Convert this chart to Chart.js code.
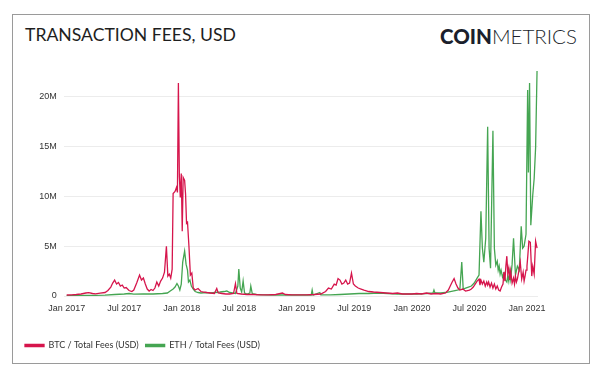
<!DOCTYPE html>
<html lang="en">
<head>
  <meta charset="UTF-8">
  <title>Transaction Fees, USD</title>
  <script src="https://cdn.jsdelivr.net/npm/chart.js"></script>
  <style>
    html, body { margin: 0; padding: 0; background: #fff; overflow: hidden; }
    #wrap { position: relative; width: 600px; height: 366px; }
    #frame {
      position: absolute; left: 12px; top: 14px; width: 576px; height: 348px;
      border: 1px solid #9a9a9a;
    }
    #title {
      position: absolute; left: 25px; top: 26px; margin: 0;
      font: 400 17.6px/1 Lato, "Open Sans", sans-serif; color: #1e1e1e;
    }
    #logo {
      position: absolute; left: 440px; top: 26px;
      font: 300 20.5px/1 Lato, "Open Sans", sans-serif; color: #1b1f2c;
    }
    #logo b { font-weight: 900; }
    canvas { position: absolute; left: 0; top: 0; }
  </style>
</head>
<body>
  <div id="wrap">
    <div id="frame"></div>
    <h1 id="title">TRANSACTION FEES, USD</h1>
    <div id="logo"><b>COIN</b><span>METRICS</span></div>
    <canvas id="feesChart" width="600" height="366"></canvas>
  </div>

  <script>
    // x = months since Jan 2017, fees in millions of USD
    const btcMonths = [0, 0.5, 1, 1.5, 2, 2.3, 2.7, 3, 3.5, 4, 4.3, 4.6, 4.8, 5, 5.2, 5.4, 5.6, 5.8, 6, 6.2, 6.5, 6.8,
      7, 7.3, 7.6, 7.8, 8, 8.2, 8.4, 8.6, 8.8, 9, 9.2, 9.4, 9.6, 9.8, 10, 10.2, 10.4, 10.55, 10.7, 10.85, 11,
      11.1, 11.3, 11.45, 11.55, 11.65, 11.75, 11.85, 11.95, 12.05, 12.15, 12.3, 12.4, 12.5, 12.6, 12.75, 12.9,
      13.05, 13.2, 13.4, 13.7, 14, 14.3, 14.6, 15, 15.4, 15.65, 15.8, 16.2, 16.6, 17, 17.4, 17.6, 17.75, 18.2,
      18.8, 19.5, 20.2, 21, 21.8, 22.5, 22.8, 23.5, 24.2, 25, 25.8, 26.5, 27, 27.3, 27.6, 27.9, 28.1, 28.3,
      28.5, 28.7, 28.9, 29.1, 29.3, 29.5, 29.7, 29.9, 30.1, 30.4, 30.7, 31, 31.5, 32, 32.7, 33.3, 34, 34.5,
      35, 35.5, 36, 36.5, 37, 37.5, 38, 38.5, 39, 39.5, 39.8, 40, 40.2, 40.4, 40.6, 40.8, 41, 41.3, 41.6, 42,
      42.2, 42.4, 42.6, 42.8, 43, 43.1, 43.2, 43.35, 43.5, 43.65, 43.8, 43.9, 44, 44.15, 44.3, 44.45, 44.6,
      44.75, 44.9, 45.05, 45.2, 45.35, 45.5, 45.6, 45.7, 45.8, 45.9, 46, 46.1, 46.2, 46.3, 46.45, 46.6, 46.7,
      46.8, 46.9, 47, 47.15, 47.3, 47.45, 47.6, 47.7, 47.8, 47.9, 48, 48.1, 48.2, 48.35, 48.5, 48.6, 48.75,
      48.9, 49.05];
    const btcFees = [0.1, 0.12, 0.15, 0.2, 0.3, 0.33, 0.25, 0.22, 0.28, 0.35, 0.55, 0.9, 1.3, 1.6, 1.2, 1.35, 1.0, 1.1, 0.8, 0.85, 0.55, 0.45,
      0.6, 1.3, 2.1, 1.6, 1.8, 1.2, 0.7, 0.5, 0.65, 0.55, 0.8, 1.4, 1.0, 1.5, 1.8, 2.4, 5.0, 2.0, 2.2, 1.8, 2.7,
      10.3, 10.5, 10.9, 10.4, 21.4, 12.0, 9.9, 12.3, 6.5, 11.9, 11.6, 10.2, 7.3, 7.4, 5.0, 2.1,
      2.3, 0.8, 0.6, 0.75, 0.45, 0.4, 0.35, 0.3, 0.25, 0.75, 0.3, 0.25, 0.2, 0.2, 0.25, 1.25, 0.25, 0.2,
      0.15, 0.15, 0.12, 0.12, 0.15, 0.3, 0.15, 0.12, 0.12, 0.12, 0.15, 0.2, 0.45, 0.8, 0.7, 1.2, 1.1, 1.75,
      1.6, 1.2, 1.3, 1.6, 1.2, 1.3, 2.3, 1.2, 1.0, 0.8, 0.7, 0.6, 0.45, 0.4, 0.35, 0.3, 0.25, 0.3,
      0.2, 0.2, 0.2, 0.25, 0.2, 0.3, 0.2, 0.25, 0.2, 0.3, 0.6, 1.0, 1.4, 1.75, 1.2, 0.8, 0.6, 0.7, 0.5, 0.6,
      0.7, 0.9, 1.2, 1.5, 1.7, 1.1, 1.6, 1.2, 1.5, 1.0, 1.4, 1.1, 1.4, 0.9, 1.3, 0.8, 1.2,
      0.7, 1.0, 0.6, 0.5, 0.9, 1.2, 2.4, 1.5, 3.0, 4.0, 2.3, 2.8, 1.6, 2.5, 1.3, 1.8, 1.2,
      2.0, 1.4, 1.7, 2.5, 3.4, 1.7, 2.4, 1.5, 2.0, 2.6, 3.0, 4.2, 5.5, 5.4, 2.0, 3.0, 2.2,
      5.5, 4.8];

    const ethMonths = [0, 2, 4, 5, 6, 6.5, 7, 8, 9, 10, 10.5, 10.8, 11.1, 11.3, 11.5, 11.65, 11.8, 11.95, 12.1,
      12.3, 12.45, 12.6, 12.7, 12.85, 13, 13.2, 13.4, 13.7, 14, 14.5, 15, 15.5, 16, 16.4, 16.7, 17, 17.3, 17.6,
      17.85, 17.95, 18.1, 18.25, 18.4, 18.55, 18.8, 19.1, 19.2, 19.35, 19.8, 20.5, 21.5, 22.5, 23.5, 24.5, 25.5,
      25.6, 25.7, 26.4, 26.5, 27.5, 28.5, 29.5, 30.5, 31.5, 32.5, 33.5, 34.5, 35.5, 36.5, 37.5, 38.2, 38.3,
      38.4, 39, 39.5, 40, 40.5, 41, 41.2, 41.35, 41.6, 41.9, 42.2, 42.5, 42.8, 43, 43.2, 43.35, 43.5, 43.7,
      43.9, 44.05, 44.2, 44.45, 44.6, 44.75, 44.9, 45, 45.1, 45.2, 45.3, 45.45, 45.6, 45.75, 45.9, 46, 46.1,
      46.2, 46.3, 46.45, 46.6, 46.8, 47, 47.2, 47.4, 47.55, 47.7, 47.9, 48.07, 48.15, 48.27, 48.4, 48.6,
      48.75, 48.9, 49.05];
    const ethFees = [0.03, 0.05, 0.08, 0.15, 0.2, 0.25, 0.18, 0.2, 0.2, 0.25, 0.3, 0.5, 0.7, 0.9, 1.25, 1.0, 0.6, 1.2, 3.4,
      4.5, 3.2, 2.6, 1.4, 1.6, 1.0, 0.7, 0.45, 0.35, 0.3, 0.35, 0.3, 0.35, 0.4, 0.45, 0.5, 0.35, 0.3, 0.25,
      1.0, 2.7, 0.8, 0.4, 1.5, 0.3, 0.2, 0.3, 1.0, 0.25, 0.15, 0.12, 0.1, 0.1, 0.1, 0.1, 0.1,
      0.6, 0.1, 0.35, 0.12, 0.12, 0.15, 0.2, 0.25, 0.25, 0.3, 0.25, 0.2, 0.2, 0.2, 0.25, 0.3, 0.6,
      0.3, 0.3, 0.35, 0.45, 0.55, 0.65, 3.4, 0.7, 0.8, 0.9, 1.0, 1.3, 1.8, 2.1, 8.5, 4.8, 3.4, 5.8,
      17.0, 4.8, 2.8, 16.6, 4.8, 3.1, 3.5, 2.6, 3.0, 2.2, 2.6, 1.9, 2.3, 1.6, 1.4, 2.0, 1.5,
      2.4, 1.7, 3.2, 5.8, 2.1, 3.0, 2.6, 7.0, 4.8, 5.0, 6.2, 20.7, 12.4, 21.4, 7.1, 10.1,
      11.8, 14.9, 22.6];

    const tickMonths = [0, 6, 12, 18, 24, 30, 36, 42, 48];
    const tickLabels = ['Jan 2017', 'Jul 2017', 'Jan 2018', 'Jul 2018', 'Jan 2019',
      'Jul 2019', 'Jan 2020', 'Jul 2020', 'Jan 2021'];

    const btcColor = '#d6154c';
    const ethColor = '#45a552';
    const tickFont = { family: '"Liberation Sans", Arial, sans-serif', size: 9 };

    const toPoints = (xs, ys) => xs.map((x, i) => ({ x: x, y: ys[i] }));

    const ctx = document.getElementById('feesChart').getContext('2d');
    const feesChart = new Chart(ctx, {
      type: 'line',
      data: {
        datasets: [{
          label: 'BTC / Total Fees (USD)',
          data: toPoints(btcMonths, btcFees),
          borderColor: btcColor,
          backgroundColor: btcColor,
          borderWidth: 1.3,
          pointRadius: 0,
          tension: 0
        }, {
          label: 'ETH / Total Fees (USD)',
          data: toPoints(ethMonths, ethFees),
          borderColor: ethColor,
          backgroundColor: ethColor,
          borderWidth: 1.3,
          pointRadius: 0,
          tension: 0
        }]
      },
      options: {
        responsive: false,
        animation: false,
        layout: { padding: { left: 18, right: 62, top: 67, bottom: 6 } },
        scales: {
          x: {
            type: 'linear',
            min: -0.3,
            max: 49.15,
            grid: { display: false, drawTicks: false },
            border: { display: false },
            afterBuildTicks: (scale) => {
              scale.ticks = tickMonths.map(v => ({ value: v }));
            },
            afterFit: (scale) => { scale.height = 38; },
            ticks: {
              padding: 7,
              maxRotation: 0,
              autoSkip: false,
              color: '#333',
              font: tickFont,
              callback: (v) => tickLabels[tickMonths.indexOf(v)]
            }
          },
          y: {
            min: 0,
            max: 23,
            grid: { color: '#ececec', drawTicks: false },
            border: { display: false },
            afterFit: (scale) => { scale.width = 45.8; },
            ticks: {
              stepSize: 5,
              includeBounds: false,
              padding: 7,
              color: '#333',
              font: tickFont,
              callback: (v) => v === 0 ? '0' : v + 'M'
            }
          }
        },
        plugins: {
          legend: {
            position: 'bottom',
            align: 'start',
            labels: {
              boxWidth: 19,
              boxHeight: 2,
              padding: 7,
              color: '#333',
              font: { family: 'Lato, "Open Sans", sans-serif', size: 9 }
            }
          },
          tooltip: { enabled: false }
        }
      }
    });
  </script>
</body>
</html>
